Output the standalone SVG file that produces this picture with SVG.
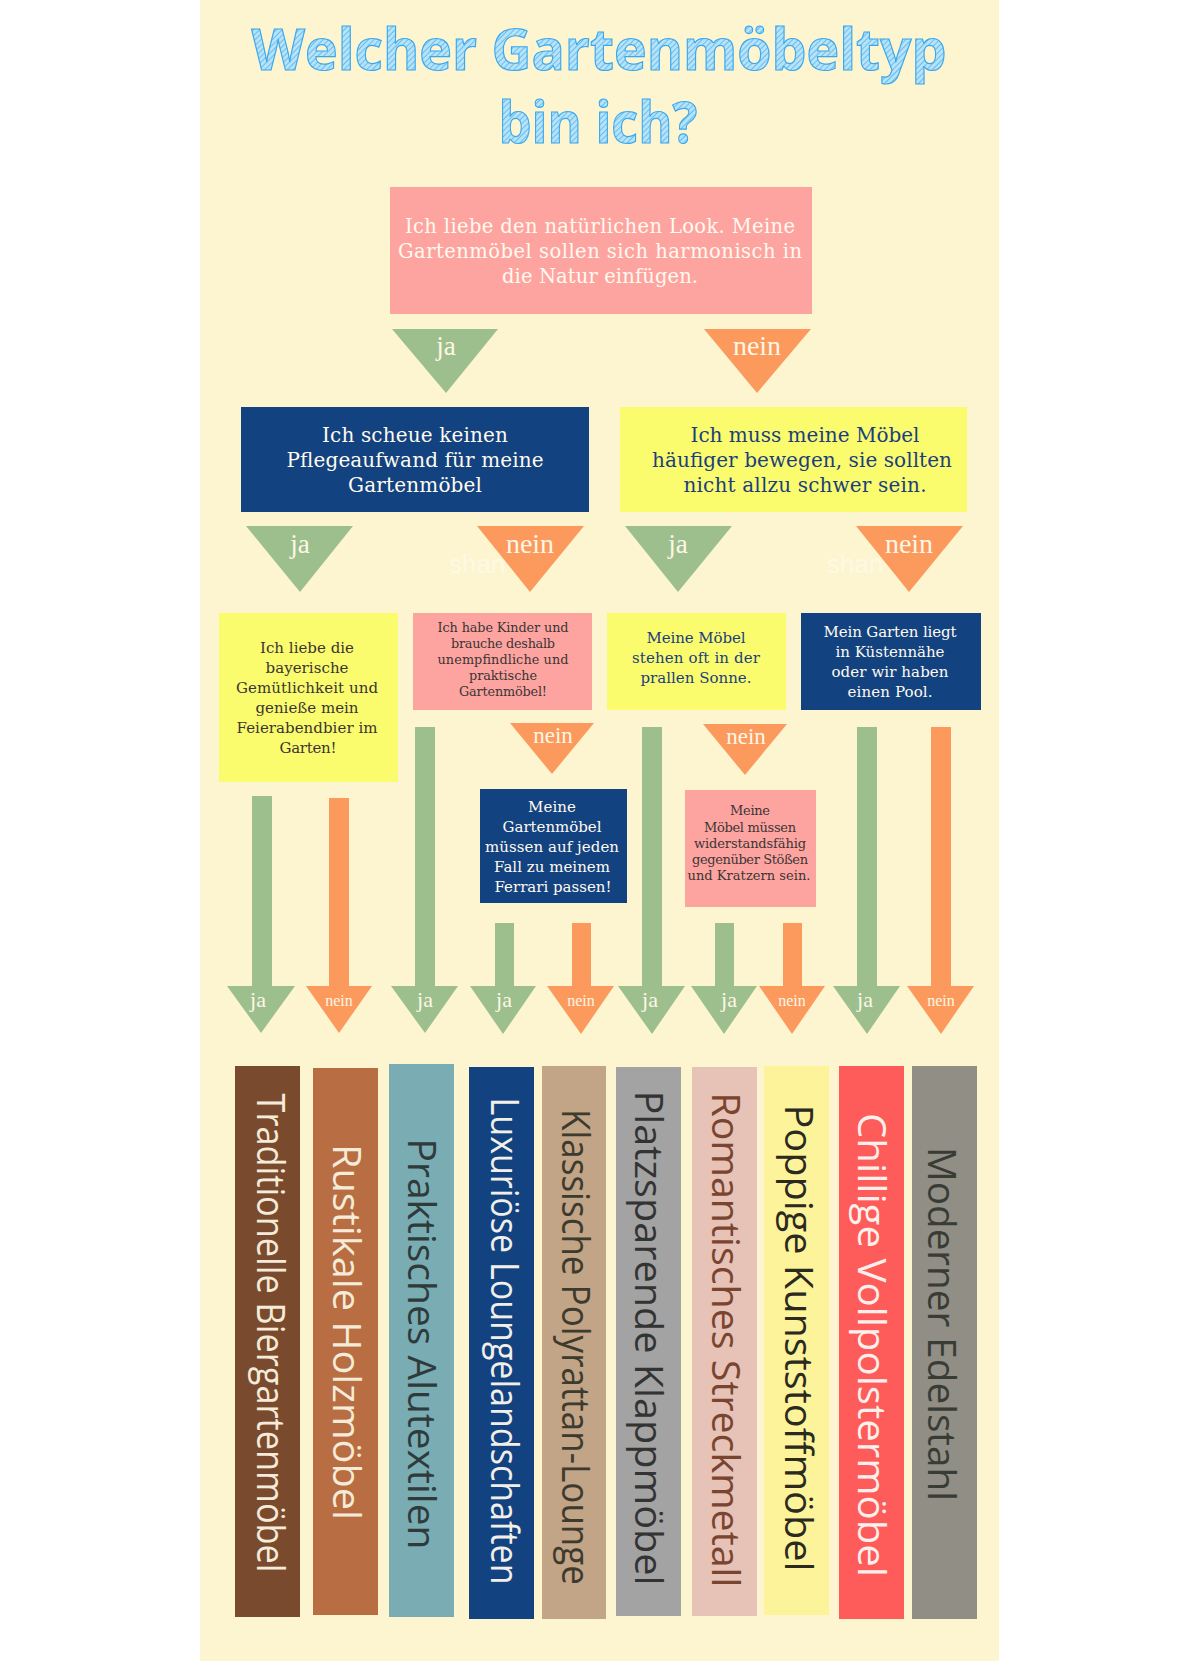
<svg xmlns="http://www.w3.org/2000/svg" width="1200" height="1661" viewBox="0 0 1200 1661">
<defs>
<pattern id="hatch" width="4" height="4" patternUnits="userSpaceOnUse" patternTransform="rotate(45)">
<rect width="4" height="4" fill="#b8e2f8"/><line x1="0" y1="0" x2="0" y2="4" stroke="#52b6ef" stroke-width="1.6"/>
</pattern>
<style>
.title{font-family:"Open Sans","Liberation Sans",sans-serif;font-weight:700;font-size:58px;fill:url(#hatch);stroke:#3aa8ee;stroke-width:1.2;text-anchor:middle}
.s{font-family:"DejaVu Serif","Liberation Serif",serif;text-anchor:middle}
.w{fill:#fffaf0}
.db{fill:#1b3f7e}
.dk{fill:#3a3535}
.lbl{font-family:"Liberation Serif","DejaVu Serif",serif;fill:#fdf7e4;text-anchor:middle}
.g{fill:#9dbf8e}
.o{fill:#fc9a5e}
.bt{font-family:"Open Sans","Liberation Sans",sans-serif;font-size:38px;text-anchor:middle}
.wm{font-family:"Liberation Sans",sans-serif;font-size:26px;fill:#ffffff;opacity:0.45}
</style>
</defs>
<rect width="1200" height="1661" fill="#ffffff"/>
<rect x="200" y="0" width="799" height="1661" fill="#fdf5d0"/>

<g id="title">
<text class="title" x="599" y="70" textLength="695" lengthAdjust="spacingAndGlyphs">Welcher Gartenmöbeltyp</text>
<text class="title" x="598" y="143" textLength="199" lengthAdjust="spacingAndGlyphs">bin ich?</text>
</g>

<g id="watermarks">
<text class="wm" x="449" y="573">shan</text>
<text class="wm" x="827" y="573">shan</text>
</g>

<g id="connectors">
<polygon class="g" points="392,329 498,329 446,393"/>
<text class="lbl" x="446" y="355" font-size="27">ja</text>
<polygon class="o" points="704,329 811,329 757,393"/>
<text class="lbl" x="757" y="355" font-size="28">nein</text>

<polygon class="g" points="246,526 353,526 300,592"/>
<text class="lbl" x="300" y="553" font-size="27">ja</text>
<polygon class="o" points="477,526 584,526 530,592"/>
<text class="lbl" x="530" y="553" font-size="28">nein</text>
<polygon class="g" points="625,526 732,526 678,592"/>
<text class="lbl" x="678" y="553" font-size="27">ja</text>
<polygon class="o" points="856,526 963,526 909,592"/>
<text class="lbl" x="909" y="553" font-size="28">nein</text>

<polygon class="o" points="510,723 594,723 552,774"/>
<text class="lbl" x="553" y="743" font-size="23">nein</text>
<polygon class="o" points="703,724 787,724 745,775"/>
<text class="lbl" x="746" y="744" font-size="23">nein</text>

<path class="g" d="M252,796 H272 V986 H295 L261,1033 L227,986 H252 Z"/>
<path class="o" d="M329,798 H349 V986 H372 L339,1033 L306,986 H329 Z"/>
<path class="g" d="M415,727 H435 V986 H458 L425,1033 L391,986 H415 Z"/>
<path class="g" d="M495,923 H514 V986 H536 L503,1034 L470,986 H495 Z"/>
<path class="o" d="M572,923 H591 V986 H614 L581,1034 L547,986 H572 Z"/>
<path class="g" d="M642,727 H662 V986 H685 L652,1034 L618,986 H642 Z"/>
<path class="g" d="M715,923 H734 V986 H757 L724,1034 L691,986 H715 Z"/>
<path class="o" d="M783,923 H802 V986 H825 L792,1034 L759,986 H783 Z"/>
<path class="g" d="M857,727 H877 V986 H900 L867,1034 L833,986 H857 Z"/>
<path class="o" d="M931,727 H951 V986 H974 L941,1034 L907,986 H931 Z"/>
<text class="lbl" x="258" y="1007" font-size="22">ja</text>
<text class="lbl" x="339" y="1006" font-size="16">nein</text>
<text class="lbl" x="425" y="1007" font-size="22">ja</text>
<text class="lbl" x="504" y="1007" font-size="22">ja</text>
<text class="lbl" x="581" y="1006" font-size="16">nein</text>
<text class="lbl" x="650" y="1007" font-size="22">ja</text>
<text class="lbl" x="729" y="1007" font-size="22">ja</text>
<text class="lbl" x="792" y="1006" font-size="16">nein</text>
<text class="lbl" x="865" y="1007" font-size="22">ja</text>
<text class="lbl" x="941" y="1006" font-size="16">nein</text>
</g>

<g id="q-natur">
<rect x="390" y="187" width="422" height="127" fill="#fea4a0"/>
<text class="s w" font-size="19.5"><tspan x="600" y="233" textLength="390">Ich liebe den natürlichen Look. Meine</tspan><tspan x="600" y="258" textLength="404">Gartenmöbel sollen sich harmonisch in</tspan><tspan x="600" y="283" textLength="196">die Natur einfügen.</tspan></text>
</g>

<g id="q-pflege">
<rect x="241" y="407" width="348" height="105" fill="#134280"/>
<text class="s w" font-size="20"><tspan x="415" y="442" textLength="186">Ich scheue keinen</tspan><tspan x="415" y="467" textLength="257">Pflegeaufwand für meine</tspan><tspan x="415" y="492" textLength="134">Gartenmöbel</tspan></text>
</g>

<g id="q-bewegen">
<rect x="620" y="407" width="347" height="105" fill="#fbfb6e"/>
<text class="s db" font-size="20"><tspan x="805" y="442" textLength="229">Ich muss meine Möbel</tspan><tspan x="802" y="467" textLength="300">häufiger bewegen, sie sollten</tspan><tspan x="805" y="492" textLength="243">nicht allzu schwer sein.</tspan></text>
</g>

<g id="q-bayerisch">
<rect x="219" y="613" width="179" height="169" fill="#fbfb6e"/>
<text class="s dk" font-size="15"><tspan x="307" y="653" textLength="94">Ich liebe die</tspan><tspan x="307" y="673" textLength="83">bayerische</tspan><tspan x="307" y="693" textLength="142">Gemütlichkeit und</tspan><tspan x="307" y="713" textLength="103">genieße mein</tspan><tspan x="307" y="733" textLength="141">Feierabendbier im</tspan><tspan x="308" y="753" textLength="57">Garten!</tspan></text>
</g>

<g id="q-kinder">
<rect x="413" y="613" width="179" height="97" fill="#fea4a0"/>
<text class="s dk" font-size="12.8"><tspan x="503" y="632" textLength="131">Ich habe Kinder und</tspan><tspan x="503" y="648" textLength="104">brauche deshalb</tspan><tspan x="503" y="664" textLength="131">unempfindliche und</tspan><tspan x="503" y="680" textLength="68">praktische</tspan><tspan x="503" y="696" textLength="88">Gartenmöbel!</tspan></text>
</g>

<g id="q-sonne">
<rect x="607" y="613" width="179" height="97" fill="#fbfb6e"/>
<text class="s db" font-size="15"><tspan x="696" y="643" textLength="99">Meine Möbel</tspan><tspan x="696" y="663" textLength="128">stehen oft in der</tspan><tspan x="696" y="683" textLength="111">prallen Sonne.</tspan></text>
</g>

<g id="q-kueste">
<rect x="801" y="613" width="180" height="97" fill="#134280"/>
<text class="s w" font-size="15"><tspan x="890" y="637" textLength="133">Mein Garten liegt</tspan><tspan x="890" y="657" textLength="109">in Küstennähe</tspan><tspan x="890" y="677" textLength="117">oder wir haben</tspan><tspan x="890" y="697" textLength="85">einen Pool.</tspan></text>
</g>

<g id="q-ferrari">
<rect x="480" y="789" width="147" height="114" fill="#134280"/>
<text class="s w" font-size="15"><tspan x="552" y="812" textLength="48">Meine</tspan><tspan x="552" y="832" textLength="99">Gartenmöbel</tspan><tspan x="552" y="852" textLength="134">müssen auf jeden</tspan><tspan x="552" y="872" textLength="116">Fall zu meinem</tspan><tspan x="553" y="892" textLength="117">Ferrari passen!</tspan></text>
</g>

<g id="q-stoesse">
<rect x="685" y="790" width="131" height="117" fill="#fea4a0"/>
<text class="s dk" font-size="13"><tspan x="750" y="815" textLength="40">Meine</tspan><tspan x="750" y="832" textLength="92">Möbel müssen</tspan><tspan x="750" y="848" textLength="112">widerstandsfähig</tspan><tspan x="750" y="864" textLength="116">gegenüber Stößen</tspan><tspan x="749" y="880" textLength="123">und Kratzern sein.</tspan></text>
</g>

<g id="r-biergarten">
<rect x="235" y="1066" width="65" height="551" fill="#7a4a2e"/>
<text class="bt" fill="#f4ebd8" transform="translate(257,1333) rotate(90)" textLength="479" lengthAdjust="spacingAndGlyphs">Traditionelle Biergartenmöbel</text>
</g>
<g id="r-holz">
<rect x="313" y="1068" width="65" height="547" fill="#b86e42"/>
<text class="bt" fill="#f4ebd8" transform="translate(333,1332) rotate(90)" textLength="376" lengthAdjust="spacingAndGlyphs">Rustikale Holzmöbel</text>
</g>
<g id="r-alu">
<rect x="389" y="1064" width="65" height="553" fill="#7aacb4"/>
<text class="bt" fill="#2f3b3b" transform="translate(408,1344) rotate(90)" textLength="411" lengthAdjust="spacingAndGlyphs">Praktisches Alutextilen</text>
</g>
<g id="r-lounge">
<rect x="469" y="1067" width="65" height="552" fill="#134280"/>
<text class="bt" fill="#f2efe8" transform="translate(491,1341) rotate(90)" textLength="487" lengthAdjust="spacingAndGlyphs">Luxuriöse Loungelandschaften</text>
</g>
<g id="r-polyrattan">
<rect x="542" y="1066" width="64" height="553" fill="#c2a487"/>
<text class="bt" fill="#3d3a2e" transform="translate(562,1347) rotate(90)" textLength="476" lengthAdjust="spacingAndGlyphs">Klassische Polyrattan-Lounge</text>
</g>
<g id="r-klapp">
<rect x="616" y="1067" width="65" height="549" fill="#a3a3a3"/>
<text class="bt" fill="#333333" transform="translate(635,1338) rotate(90)" textLength="495" lengthAdjust="spacingAndGlyphs">Platzsparende Klappmöbel</text>
</g>
<g id="r-streckmetall">
<rect x="692" y="1067" width="65" height="549" fill="#e6c2b7"/>
<text class="bt" fill="#7a4530" transform="translate(712,1340) rotate(90)" textLength="495" lengthAdjust="spacingAndGlyphs">Romantisches Streckmetall</text>
</g>
<g id="r-kunststoff">
<rect x="764" y="1066" width="65" height="549" fill="#fdf39a"/>
<text class="bt" fill="#2a2a1e" transform="translate(785,1338) rotate(90)" textLength="467" lengthAdjust="spacingAndGlyphs">Poppige Kunststoffmöbel</text>
</g>
<g id="r-vollpolster">
<rect x="839" y="1066" width="65" height="553" fill="#fd5c5b"/>
<text class="bt" fill="#fdf0ec" transform="translate(858,1345) rotate(90)" textLength="464" lengthAdjust="spacingAndGlyphs">Chillige Vollpolstermöbel</text>
</g>
<g id="r-edelstahl">
<rect x="912" y="1066" width="65" height="553" fill="#918e86"/>
<text class="bt" fill="#393c35" transform="translate(928,1324) rotate(90)" textLength="354" lengthAdjust="spacingAndGlyphs">Moderner Edelstahl</text>
</g>
</svg>
